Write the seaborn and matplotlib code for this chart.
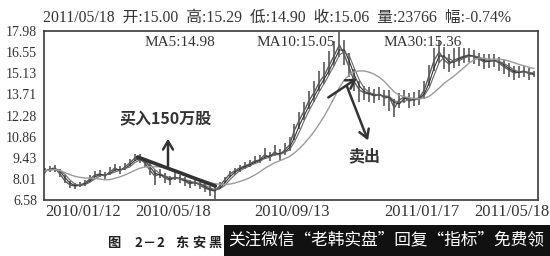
import numpy as np
import pandas as pd
import matplotlib
matplotlib.use("Agg")
import matplotlib.pyplot as plt
from matplotlib.patches import Rectangle
import seaborn as sns

# ---------------- data ----------------
close = [8.54, 8.67, 8.74, 8.33, 7.86, 7.59, 7.52, 7.59, 7.73, 8.00,
         8.27, 8.33, 8.20, 8.47, 8.74, 8.54, 8.81, 9.08, 9.41, 9.35,
         9.08, 8.60, 8.20, 8.33, 8.06, 7.93, 8.13, 8.00, 7.86, 7.66,
         7.79, 7.59, 7.39, 7.26, 7.19, 7.52, 7.93, 8.33, 8.54, 8.74,
         8.87, 9.01, 9.21, 9.28, 9.62, 9.48, 9.82, 9.62, 9.95, 10.29,
         11.30, 11.98, 12.65, 13.33, 13.87, 14.54, 15.01, 15.69, 16.36, 17.04,
         16.36, 15.48, 14.54, 14.00, 13.80, 13.73, 13.60, 13.73, 13.46, 13.53,
         12.79, 13.33, 13.53, 13.26, 13.39, 13.46, 14.00, 15.01, 16.02, 16.56,
         16.02, 15.75, 16.02, 16.16, 16.29, 16.36, 16.23, 16.09, 15.89, 15.96,
         16.02, 15.82, 15.55, 15.35, 15.15, 15.21, 15.28, 15.08, 15.06]
high = [8.75, 8.90, 8.95, 8.70, 8.30, 7.85, 7.75, 7.80, 7.95, 8.25,
        8.55, 8.60, 8.45, 8.80, 9.00, 8.85, 9.10, 9.35, 9.70, 9.65,
        9.40, 9.05, 8.60, 8.65, 8.40, 8.20, 8.45, 8.30, 8.15, 7.95,
        8.10, 7.90, 7.70, 7.55, 7.45, 7.80, 8.15, 8.55, 8.75, 8.95,
        9.15, 9.30, 9.55, 9.60, 10.10, 9.85, 10.30, 10.00, 10.40, 10.80,
        11.70, 12.50, 13.20, 13.90, 14.60, 15.30, 15.90, 16.60, 17.30, 17.90,
        17.40, 16.50, 15.40, 14.60, 14.30, 14.20, 14.10, 14.20, 14.00, 14.00,
        13.40, 13.80, 14.00, 13.80, 13.85, 14.00, 14.60, 15.70, 16.80, 17.40,
        16.90, 16.40, 16.80, 16.90, 16.80, 16.85, 16.70, 16.50, 16.40, 16.45,
        16.40, 16.25, 16.00, 15.80, 15.60, 15.60, 15.65, 15.50, 15.29]
low = [8.40, 8.50, 8.45, 8.15, 7.70, 7.40, 7.35, 7.45, 7.55, 7.80,
       8.10, 8.15, 8.00, 8.30, 8.55, 8.35, 8.60, 8.85, 9.20, 9.10,
       8.80, 8.30, 7.60, 8.05, 7.75, 7.60, 7.90, 7.75, 7.55, 7.40,
       7.55, 7.30, 7.10, 6.85, 6.65, 7.30, 7.70, 8.10, 8.30, 8.50,
       8.65, 8.80, 9.00, 9.05, 9.35, 9.20, 9.55, 9.30, 9.60, 9.90,
       10.60, 11.40, 12.00, 12.70, 13.20, 13.90, 14.40, 15.00, 15.60, 16.20,
       15.70, 14.90, 13.90, 13.20, 13.30, 13.20, 13.10, 13.30, 12.90, 12.60,
       12.20, 12.80, 13.10, 12.80, 12.90, 13.00, 13.40, 14.30, 15.30, 15.80,
       15.40, 15.20, 15.50, 15.60, 15.80, 15.90, 15.75, 15.60, 15.40, 15.50,
       15.55, 15.30, 15.05, 14.85, 14.70, 14.80, 14.85, 14.70, 14.90]

ytick_values = [6.58, 8.01, 9.43, 10.86, 12.28, 13.71, 15.13, 16.55, 17.98]
xtick_index = [0, 18, 42, 68, 86]
xtick_labels = ["2010/01/12", "2010/05/18", "2010/09/13", "2011/01/17", "2011/05/18"]
header_items = ["2011/05/18", "开:15.00", "高:15.29", "低:14.90", "收:15.06", "量:23766", "幅:-0.74%"]
ma_labels = ["MA5:14.98", "MA10:15.05", "MA30:15.36"]
ma_windows = [2, 3, 10]   # MA5 / MA10 / MA30 on the compressed series

df = pd.DataFrame({"i": np.arange(len(close)), "close": close, "high": high, "low": low})
for lab, w in zip(["MA5", "MA10", "MA30"], ma_windows):
    df[lab] = df["close"].rolling(w, min_periods=1).mean()

# ---------------- figure ----------------
sns.set_theme(style="white")
SERIF = ["Liberation Serif", "Noto Sans CJK SC", "DejaVu Sans"]
CJK = ["Noto Sans CJK SC", "DejaVu Sans"]
plt.rcParams["font.family"] = SERIF

W, H = 550, 256
fig = plt.figure(figsize=(W / 100, H / 100), dpi=100)
fig.patch.set_facecolor("white")

def fx(x):
    return x / W

def fy(y):
    return 1 - y / H

ax = fig.add_axes([fx(44), fy(200), (538 - 44) / W, (200 - 31) / H])

ax.vlines(df["i"], df["low"], df["high"], color="#4a4a4a", lw=1.1, zorder=2)
sns.lineplot(data=df, x="i", y="close", ax=ax, color="#5a5a5a", lw=1.0, zorder=2)
sns.lineplot(data=df, x="i", y="MA5", ax=ax, color="#333333", lw=0.8, zorder=3)
sns.lineplot(data=df, x="i", y="MA10", ax=ax, color="#666666", lw=0.8, zorder=3)
sns.lineplot(data=df, x="i", y="MA30", ax=ax, color="#9a9a9a", lw=1.0, zorder=3)

ax.set_xlim(-0.2, len(close) - 0.2)
ax.set_ylim(ytick_values[0], ytick_values[-1])
ax.set_yticks(ytick_values)
ax.set_yticklabels([f"{v:.2f}" for v in ytick_values], fontsize=10, color="#333333")
ax.set_xticks(xtick_index)
ax.set_xticklabels(xtick_labels, fontsize=12, color="#333333", ha="left")
ax.tick_params(axis="both", length=0)
ax.tick_params(axis="y", pad=5)
ax.tick_params(axis="x", pad=3)
ax.set_xlabel("")
ax.set_ylabel("")
for s in ax.spines.values():
    s.set_color("#3a3a3a")
    s.set_linewidth(1.2)

# header
fig.text(fx(43), fy(18), "  ".join(header_items), fontsize=11.3, color="#333333",
         family=SERIF, va="center", ha="left")
# MA labels
for lab, xl in zip(ma_labels, [145, 257, 384]):
    fig.text(fx(xl), fy(43), lab, fontsize=11, color="#333333",
             family=SERIF, va="center", ha="left")

# annotations
fc = "figure fraction"
ax.annotate("", xy=(fx(218), fy(187)), xytext=(fx(135), fy(156)),
            xycoords=fc, textcoords=fc,
            arrowprops=dict(arrowstyle="-", lw=2.6, color="#333333"), zorder=5)
ax.annotate("", xy=(fx(168), fy(136)), xytext=(fx(168), fy(169)),
            xycoords=fc, textcoords=fc,
            arrowprops=dict(arrowstyle="->,head_length=0.5,head_width=0.3", lw=1.8, color="#333333"))
ax.annotate("", xy=(fx(359), fy(77)), xytext=(fx(326), fy(99)),
            xycoords=fc, textcoords=fc,
            arrowprops=dict(arrowstyle="->,head_length=0.5,head_width=0.3", lw=1.8, color="#333333"))
ax.annotate("", xy=(fx(369), fy(143)), xytext=(fx(346), fy(84)),
            xycoords=fc, textcoords=fc,
            arrowprops=dict(arrowstyle="->,head_length=0.5,head_width=0.3", lw=1.8, color="#333333"))
fig.text(fx(166), fy(119), "买入150万股", fontsize=11.5, fontweight="bold",
         family=CJK, color="#333333", ha="center", va="center")
fig.text(fx(364), fy(156), "卖出", fontsize=11.5, fontweight="bold",
         family=CJK, color="#333333", ha="center", va="center")

# caption (partly hidden by the black banner)
cap_chars = ["图", "2", "－", "2", "东", "安", "黑"]
cap_x = [114, 138, 149, 160, 182, 199, 215]
for ch, xc in zip(cap_chars, cap_x):
    fig.text(fx(xc), fy(243), ch, fontsize=9.5, fontweight="bold", family=CJK,
             color="#222222", ha="center", va="center")

fig.patches.append(Rectangle((fx(224), 0), 1 - fx(224), fy(225), transform=fig.transFigure,
                             facecolor="#111111", edgecolor="none", zorder=10))
fig.text(fx(228), fy(241), "关注微信“老韩实盘”回复“指标”免费领", fontsize=12,
         family=CJK, color="white", ha="left", va="center", zorder=11)

fig.savefig("out.png", dpi=100, facecolor="white")
